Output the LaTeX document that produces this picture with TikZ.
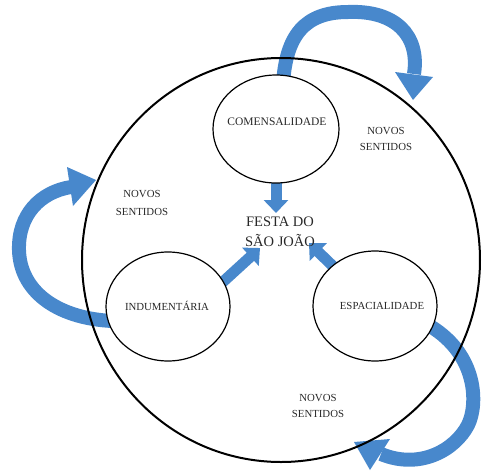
\documentclass[tikz,border=0pt]{standalone}
\usepackage{fontspec}
\setmainfont{Liberation Serif}
\usetikzlibrary{arrows.meta,shapes.geometric}
\definecolor{arrowblue}{RGB}{72,136,204}
\definecolor{inkgray}{RGB}{40,40,40}
\begin{document}
\begin{tikzpicture}[x=1pt,y=-1pt,
  ring/.style={ellipse, draw=black, line width=2pt, inner sep=0pt},
  bubble/.style={ellipse, draw=black, line width=1.2pt, fill=white, inner sep=0pt},
  band/.style={draw=arrowblue, line width=14pt},
  headfill/.style={fill=arrowblue},
  straightarrow/.style={draw=arrowblue, color=arrowblue, line width=11pt, -{Triangle[width=24pt,length=13pt]}},
  lbl/.style={font=\fontsize{10.8}{13}\selectfont, text=inkgray, inner sep=0pt, anchor=base},
  twoline/.style={font=\fontsize{10.8}{#1}\selectfont, text=inkgray, inner sep=0pt, align=center, anchor=center},
  title/.style={font=\fontsize{14.5}{20}\selectfont, text=inkgray, inner sep=0pt, align=center, anchor=center}]
\useasboundingbox (0,0) rectangle (483,475);

% named end points of the curved arrows
\coordinate (topA) at (283,84);
\coordinate (topB) at (414,74);
\coordinate (leftA) at (112,321);
\coordinate (leftB) at (71,187);
\coordinate (brA) at (430,326);
\coordinate (brB) at (381,454);
% tips of the straight arrows
\coordinate (t1) at (276,213);
\coordinate (t2) at (260,248);
\coordinate (t3) at (309,243);
\coordinate (s1) at (276,178);
\coordinate (s2) at (219.5,285);
\coordinate (s3) at (338,271);

% curved blue arrows
\draw[band] (topA) .. controls (286,35) and (305,12) .. (348,12) .. controls (395,10) and (420,35) .. (topB);
\fill[headfill] (395,72) -- (413,100) -- (433,77) -- cycle;

\draw[band] (leftA) .. controls (55,318) and (20,290) .. (19,250) .. controls (18,215) and (40,192) .. (leftB);
\fill[headfill] (67,167) -- (96,180) -- (73,206) -- cycle;

\draw[band] (brA) .. controls (478,355) and (478,405) .. (468,425) .. controls (455,450) and (420,470) .. (brB);
\fill[headfill] (390,439) -- (354,442) -- (370,470) -- cycle;

% straight arrows towards the centre
\draw[straightarrow] (s1) -- (t1);
\draw[straightarrow] (s2) -- (t2);
\draw[straightarrow] (s3) -- (t3);

% big circle
\node[ring, minimum width=398pt, minimum height=404pt] (big) at (281,260) {};

% small ellipses
\node[bubble, minimum width=126pt, minimum height=108pt] (com) at (276,129) {};
\node[bubble, minimum width=124pt, minimum height=109pt] (ind) at (168,306.5) {};
\node[bubble, minimum width=124pt, minimum height=110pt] (esp) at (375,306) {};

% labels
\node[lbl, font=\fontsize{11.5}{13}\selectfont] (comlbl) at (277,125) {COMENSALIDADE};
\node[lbl] (indlbl) at (167,310) {INDUMENTÁRIA};
\node[lbl] (esplbl) at (382,309.5) {ESPACIALIDADE};

\node[title] (festa) at (280,232) {FESTA DO\\SÃO JOÃO};

\node[twoline=16] (nsur) at (386,138.5) {NOVOS\\SENTIDOS};
\node[twoline=18] (nsl) at (142,202.5) {NOVOS\\SENTIDOS};
\node[twoline=15.5] (nsb) at (318,406) {NOVOS\\SENTIDOS};
\end{tikzpicture}
\end{document}
